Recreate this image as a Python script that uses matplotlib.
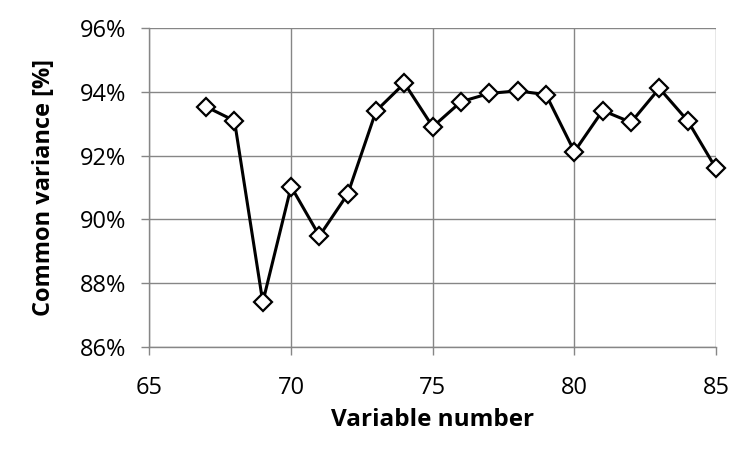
import matplotlib
matplotlib.use("Agg")
import matplotlib.pyplot as plt
from matplotlib.ticker import FuncFormatter

# Data
variable_number = [67, 68, 69, 70, 71, 72, 73, 74, 75, 76, 77, 78, 79, 80, 81, 82, 83, 84, 85]
common_variance = [93.54, 93.10, 87.40, 91.03, 89.48, 90.80, 93.41, 94.28, 92.91, 93.70,
                   93.96, 94.04, 93.92, 92.13, 93.42, 93.05, 94.12, 93.10, 91.60]

plt.rcParams['font.family'] = ['Open Sans', 'DejaVu Sans']

fig = plt.figure(figsize=(7.5, 4.5), dpi=100)
ax = fig.add_axes([0.1993, 0.2296, 0.7554, 0.7071])

grid_col = '#868686'
ax.plot(variable_number, common_variance, color='black', linewidth=2.2,
        marker='D', markersize=9, markerfacecolor='white',
        markeredgecolor='black', markeredgewidth=1.6, zorder=3, clip_on=False)

ax.set_xlim(65, 85)
ax.set_ylim(86, 96)
ax.set_xticks(range(65, 86, 5))
ax.set_yticks(range(86, 97, 2))
ax.yaxis.set_major_formatter(FuncFormatter(lambda v, p: f'{v:.0f}%'))

ax.grid(True, color=grid_col, linewidth=1)
ax.set_axisbelow(True)
for side in ['top', 'right']:
    ax.spines[side].set_visible(False)
for side in ['left', 'bottom']:
    ax.spines[side].set_color(grid_col)
    ax.spines[side].set_linewidth(1)

ax.tick_params(axis='both', colors=grid_col, length=6, width=1, labelsize=17,
               labelcolor='black')
ax.tick_params(axis='x', pad=15)
ax.tick_params(axis='y', pad=11)

ax.set_xlabel('Variable number', fontsize=17.5, fontweight='bold', labelpad=6)
ax.set_ylabel('Common variance [%]', fontsize=17, fontweight='bold', labelpad=17)

fig.savefig('out.png', dpi=100)
